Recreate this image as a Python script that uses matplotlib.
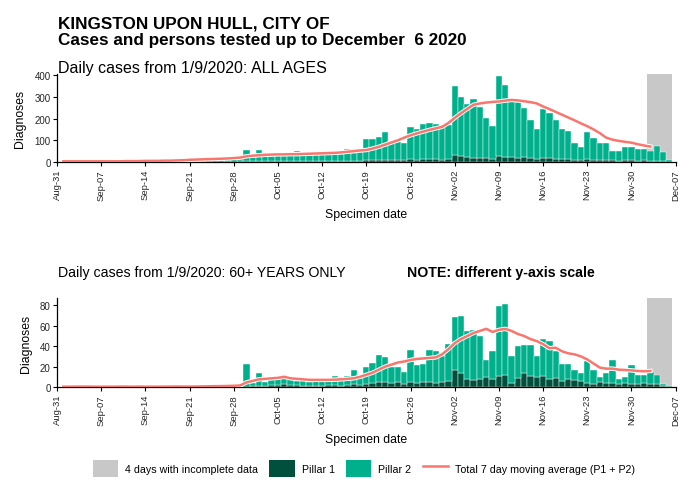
import matplotlib
matplotlib.use("Agg")
import matplotlib.pyplot as plt
import matplotlib.dates as mdates
import matplotlib.patheffects as pe
from matplotlib.patches import Patch
from matplotlib.lines import Line2D
import numpy as np
import pandas as pd

plt.rcParams['font.family'] = ['Liberation Sans', 'DejaVu Sans']

# specimen dates, 1 Sep - 6 Dec 2020
dates = pd.date_range("2020-09-01", "2020-12-06", freq="D")

# all ages: total diagnoses per day (Pillar 1 + Pillar 2)
all_total = [
    2, 3, 1, 4, 2, 3, 2,
    3, 4, 2, 5, 3, 2, 4,
    5, 6, 4, 7, 5, 8, 9,
    10, 12, 9, 14, 11, 15, 18,
    22, 55, 28, 53, 30, 27,
    34, 36, 30, 50, 33, 31, 35,
    38, 36, 40, 37, 62, 42, 45,
    108, 105, 117, 138, 95, 90, 88,
    162, 150, 177, 178, 176, 160, 170,
    350, 302, 267, 289, 253, 203, 165,
    398, 357, 285, 275, 248, 195, 150,
    244, 226, 195, 153, 142, 89, 71,
    138, 112, 89, 89, 52, 52, 71,
    67, 62, 62, 52, 74, 48, 11,
]
all_p1 = [
    0, 1, 0, 1, 0, 1, 0,
    1, 0, 1, 1, 0, 1, 0,
    1, 1, 0, 1, 1, 1, 2,
    1, 2, 1, 2, 2, 3, 2,
    3, 4, 3, 4, 3, 3,
    4, 5, 4, 5, 4, 3, 4,
    4, 5, 5, 4, 6, 5, 5,
    8, 9, 10, 10, 9, 8, 7,
    12, 11, 12, 13, 12, 11, 14,
    30, 28, 22, 20, 18, 16, 14,
    28, 25, 22, 20, 24, 18, 14,
    20, 16, 14, 12, 15, 10, 8,
    12, 10, 8, 9, 7, 6, 8,
    8, 6, 7, 5, 6, 4, 1,
]
# 7 day moving average, 1 Sep - 3 Dec
all_avg = [
    3, 3, 3, 3, 3, 3, 3,
    3, 3, 3, 4, 4, 4, 5,
    5, 5, 6, 6, 7, 8, 10,
    11, 12, 13, 14, 15, 16, 18,
    20, 26, 29, 31, 33, 34, 35,
    35, 36, 36, 37, 38, 39, 40,
    41, 42, 44, 47, 50, 53, 55,
    62, 70, 80, 90, 100, 112, 123,
    132, 140, 148, 155, 162, 180, 203,
    225, 245, 264, 270, 274, 277, 279,
    283, 286, 284, 280, 276, 270, 256,
    244, 231, 218, 205, 192, 178, 165,
    150, 133, 112, 103, 97, 93, 89,
    82, 76, 71,
]

# 60+ years only
old_total = [
    0, 0, 1, 0, 0, 1, 0,
    0, 1, 0, 0, 0, 1, 0,
    0, 0, 1, 0, 1, 0, 0,
    1, 0, 1, 1, 2, 1, 2,
    3, 23, 4, 14, 5, 8,
    10, 11, 9, 6, 7, 5, 6,
    7, 8, 11, 10, 11, 17, 9,
    20, 24, 31, 29, 20, 20, 15,
    36, 22, 23, 36, 35, 30, 42,
    69, 70, 55, 56, 50, 26, 35,
    79, 81, 30, 40, 41, 41, 30,
    47, 45, 35, 23, 23, 17, 14,
    25, 17, 10, 14, 26, 8, 10,
    22, 12, 12, 15, 12, 3, 1,
]
old_p1 = [
    0, 0, 0, 0, 0, 0, 0,
    0, 0, 0, 0, 0, 0, 0,
    0, 0, 0, 0, 0, 0, 0,
    0, 0, 0, 0, 1, 0, 1,
    1, 0, 1, 1, 1, 2,
    2, 3, 2, 2, 1, 1, 1,
    1, 2, 2, 1, 2, 3, 2,
    3, 4, 5, 5, 4, 5, 3,
    5, 4, 5, 5, 4, 5, 6,
    17, 14, 8, 7, 8, 10, 8,
    11, 12, 4, 9, 14, 11, 10,
    11, 8, 9, 6, 8, 7, 6,
    4, 3, 5, 4, 4, 3, 4,
    3, 3, 4, 3, 3, 1, 0,
]
old_avg = [
    0.3, 0.3, 0.4, 0.4, 0.4, 0.3, 0.3,
    0.3, 0.3, 0.4, 0.4, 0.3, 0.4, 0.3,
    0.3, 0.3, 0.4, 0.4, 0.5, 0.4, 0.4,
    0.5, 0.6, 0.7, 0.8, 0.9, 1.0, 1.2,
    1.5, 4.5, 6, 7.5, 8, 8.5, 9,
    10, 8.5, 8, 7.5, 7, 7, 7,
    7, 7.2, 7.5, 8, 8.5, 10, 12,
    14, 17, 20, 22, 24, 25, 26.5,
    27.5, 28, 28.5, 29, 32, 37, 43,
    47, 50, 53, 55, 57, 54, 56,
    57, 55, 52, 50, 47, 45, 42,
    38, 38.5, 35, 33, 32, 30, 27,
    23, 19, 18, 18, 17, 16.7, 16.3,
    15.7, 15.4, 15.7,
]

incomplete_start = pd.Timestamp("2020-12-02 12:00")
incomplete_end = pd.Timestamp("2020-12-06 12:00")
week_ticks = pd.date_range("2020-08-31", "2020-12-07", freq="7D")

C_P1 = "#00503d"
C_P2 = "#00b08c"
C_AVG = "#f8766d"
C_GREY = "#c8c8c8"


def draw_panel(ax, total, p1, avg, ymax, yticks):
    total = np.array(total, dtype=float)
    p1 = np.array(p1, dtype=float)
    p2 = total - p1
    ax.axvspan(incomplete_start, incomplete_end, color=C_GREY, zorder=0, lw=0)
    ax.bar(dates, p1, width=1.0, color=C_P1, edgecolor="white", linewidth=0.3, zorder=2)
    ax.bar(dates, p2, bottom=p1, width=1.0, color=C_P2, edgecolor="white", linewidth=0.3, zorder=2)
    ax.plot(dates[:len(avg)], avg, color=C_AVG, lw=1.8, zorder=3,
            path_effects=[pe.Stroke(linewidth=3.2, foreground="white"), pe.Normal()])
    ax.set_xlim(pd.Timestamp("2020-08-31"), pd.Timestamp("2020-12-07"))
    ax.set_ylim(0, ymax)
    ax.set_yticks(yticks)
    ax.set_xticks(week_ticks)
    ax.xaxis.set_major_formatter(mdates.DateFormatter("%b-%d"))
    ax.tick_params(axis="x", rotation=90, labelsize=6.8, length=3, pad=2, labelcolor="#262626")
    ax.tick_params(axis="y", labelsize=7, length=3, pad=1.5, labelcolor="#262626")
    for s in ("top", "right"):
        ax.spines[s].set_visible(False)
    for s in ("left", "bottom"):
        ax.spines[s].set_linewidth(0.9)
    ax.set_xlabel("Specimen date", fontsize=8.8, labelpad=6)
    ax.set_ylabel("Diagnoses", fontsize=8.8, labelpad=6)


fig = plt.figure(figsize=(6.79, 4.85), dpi=100)

ax1 = fig.add_axes([0.084, 0.664, 0.911, 0.181])
draw_panel(ax1, all_total, all_p1, all_avg, 405, [0, 100, 200, 300, 400])

ax2 = fig.add_axes([0.084, 0.200, 0.911, 0.183])
draw_panel(ax2, old_total, old_p1, old_avg, 87, [0, 20, 40, 60, 80])

fig.text(0.085, 0.942, "KINGSTON UPON HULL, CITY OF", fontsize=12.3, fontweight="bold")
fig.text(0.085, 0.907, "Cases and persons tested up to December  6 2020", fontsize=12.3, fontweight="bold")
fig.text(0.085, 0.850, "Daily cases from 1/9/2020: ALL AGES", fontsize=11.5)
fig.text(0.085, 0.428, "Daily cases from 1/9/2020: 60+ YEARS ONLY", fontsize=10.2)
fig.text(0.600, 0.428, "NOTE: different y-axis scale", fontsize=10.2, fontweight="bold")

handles = [
    Patch(facecolor=C_GREY, edgecolor="none"),
    Patch(facecolor=C_P1, edgecolor="none"),
    Patch(facecolor=C_P2, edgecolor="none"),
    Line2D([0], [0], color=C_AVG, lw=1.8),
]
labels = ["4 days with incomplete data", "Pillar 1", "Pillar 2",
          "Total 7 day moving average (P1 + P2)"]
fig.legend(handles, labels, loc="center", bbox_to_anchor=(0.536, 0.032), ncol=4,
           frameon=False, fontsize=7.7, handlelength=2.35, handleheight=2.2,
           handletextpad=0.65, columnspacing=1.1)

fig.savefig("out.png", dpi=100)
